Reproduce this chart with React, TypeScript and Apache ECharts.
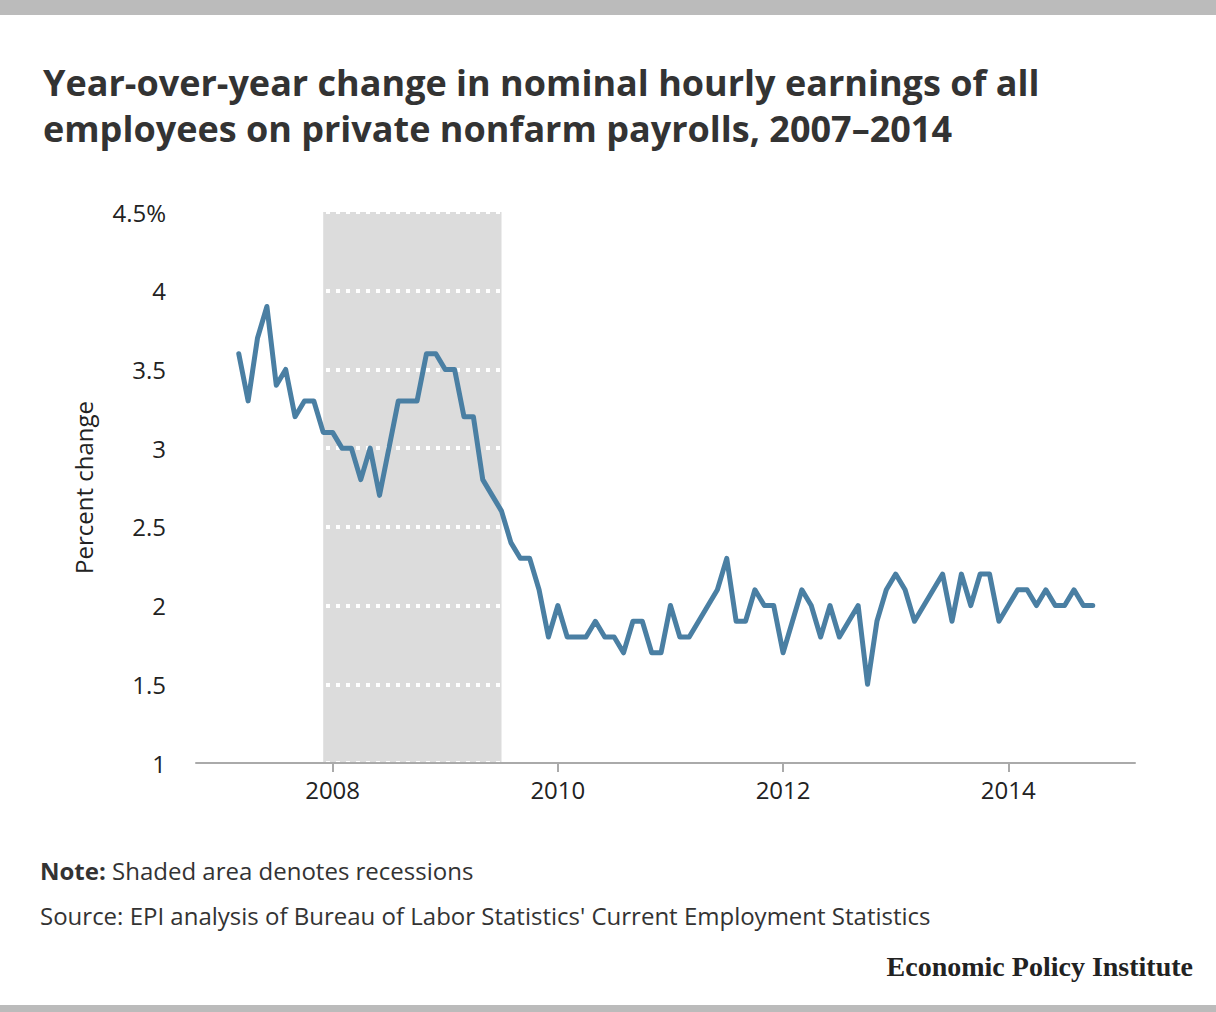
import React from "react";
import * as echarts from "echarts";

// year-over-year % change, monthly, Mar 2007 - Oct 2014
const firstYear = 2007;
const firstMonthIndex = 2; // March
const values2007 = [3.6, 3.3, 3.7, 3.9, 3.4, 3.5, 3.2, 3.3, 3.3, 3.1];
const values2008 = [3.1, 3.0, 3.0, 2.8, 3.0, 2.7, 3.0, 3.3, 3.3, 3.3, 3.6, 3.6];
const values2009 = [3.5, 3.5, 3.2, 3.2, 2.8, 2.7, 2.6, 2.4, 2.3, 2.3, 2.1, 1.8];
const values2010 = [2.0, 1.8, 1.8, 1.8, 1.9, 1.8, 1.8, 1.7, 1.9, 1.9, 1.7, 1.7];
const values2011 = [2.0, 1.8, 1.8, 1.9, 2.0, 2.1, 2.3, 1.9, 1.9, 2.1, 2.0, 2.0];
const values2012 = [1.7, 1.9, 2.1, 2.0, 1.8, 2.0, 1.8, 1.9, 2.0, 1.5, 1.9, 2.1];
const values2013 = [2.2, 2.1, 1.9, 2.0, 2.1, 2.2, 1.9, 2.2, 2.0, 2.2, 2.2, 1.9];
const values2014 = [2.0, 2.1, 2.1, 2.0, 2.1, 2.0, 2.0, 2.1, 2.0, 2.0];

// Dec 2007 - Jun 2009 (to start of Jul 2009), in fractional years
const recession = [2007 + 11 / 12, 2009 + 6 / 12];
const yearTicks = [2008, 2010, 2012, 2014];

const FONT = "'Open Sans', Lato, sans-serif";

function monthly(): [number, number][] {
  const all = [
    ...values2007,
    ...values2008,
    ...values2009,
    ...values2010,
    ...values2011,
    ...values2012,
    ...values2013,
    ...values2014,
  ];
  return all.map((v, i) => [firstYear + (firstMonthIndex + i) / 12, v]);
}

export default function App() {
  const chartRef = React.useRef<HTMLDivElement>(null);

  React.useEffect(() => {
    document.body.style.margin = "0";
    if (!chartRef.current) return;
    const chart = echarts.init(chartRef.current, null, { renderer: "svg" });
    const data = monthly();

    chart.setOption({
      animation: false,
      backgroundColor: "#fff",
      title: [
        {
          text: "Year-over-year change in nominal hourly earnings of all\nemployees on private nonfarm payrolls, 2007\u20132014",
          left: 38,
          top: 54,
          textStyle: {
            fontFamily: FONT,
            fontWeight: "bold",
            fontSize: 36,
            lineHeight: 46,
            color: "#333",
          },
        },
      ],
      graphic: [
        { type: "rect", shape: { x: 0, y: 0, width: 1216, height: 15 }, style: { fill: "#bbb" } },
        { type: "rect", shape: { x: 0, y: 1005, width: 1216, height: 7 }, style: { fill: "#bbb" } },
        {
          type: "text",
          left: 40,
          top: 858,
          style: {
            text: "{b|Note:} Shaded area denotes recessions",
            rich: {
              b: { fontFamily: FONT, fontWeight: "bold", fontSize: 24, fill: "#333" },
            },
            font: `24px ${FONT}`,
            fill: "#333",
          },
        },
        {
          type: "text",
          left: 40,
          top: 903,
          style: {
            text: "Source: EPI analysis of Bureau of Labor Statistics' Current Employment Statistics",
            font: `24px ${FONT}`,
            fill: "#333",
          },
        },
        {
          type: "text",
          right: 23,
          top: 952,
          style: {
            text: "Economic Policy Institute",
            font: `bold 28px 'Liberation Serif', 'DejaVu Serif', serif`,
            fill: "#222",
          },
        },
      ],
      grid: { left: 196, right: 81, top: 212, bottom: 249, containLabel: false },
      xAxis: {
        type: "value",
        min: 2006.787,
        max: 2015.125,
        z: 4,
        axisLine: { show: true, lineStyle: { color: "#aaa", width: 2 } },
        axisTick: {
          show: true,
          length: 9,
          lineStyle: { color: "#aaa", width: 2 },
          customValues: yearTicks,
        },
        axisLabel: {
          customValues: yearTicks,
          formatter: (v: number) => String(Math.round(v)),
          fontFamily: FONT,
          fontSize: 24,
          color: "#222",
          margin: 14,
        },
        splitLine: { show: false },
      },
      yAxis: {
        type: "value",
        min: 1,
        max: 4.5,
        interval: 0.5,
        z: 3,
        name: "Percent change",
        nameLocation: "middle",
        nameRotate: 90,
        nameGap: 101,
        nameTextStyle: { fontFamily: FONT, fontSize: 24, color: "#222" },
        axisLine: { show: false },
        axisTick: { show: false },
        axisLabel: {
          fontFamily: FONT,
          fontSize: 24,
          color: "#222",
          margin: 30,
          formatter: (v: number) => (v === 4.5 ? "4.5%" : String(v)),
        },
        splitLine: {
          show: true,
          lineStyle: { color: "#fff", width: 4, type: [4, 6] },
        },
      },
      series: [
        {
          type: "line",
          z: 1,
          data: [],
          silent: true,
          markArea: {
            silent: true,
            itemStyle: { color: "#dcdcdc" },
            data: [[{ xAxis: recession[0] }, { xAxis: recession[1] }]],
          },
        },
        {
          type: "line",
          z: 5,
          data,
          showSymbol: false,
          symbol: "none",
          lineStyle: { color: "#4a7fa3", width: 5, join: "round", cap: "round" },
        },
      ],
    });

    return () => chart.dispose();
  }, []);

  return <div ref={chartRef} style={{ width: 1216, height: 1012 }} />;
}
